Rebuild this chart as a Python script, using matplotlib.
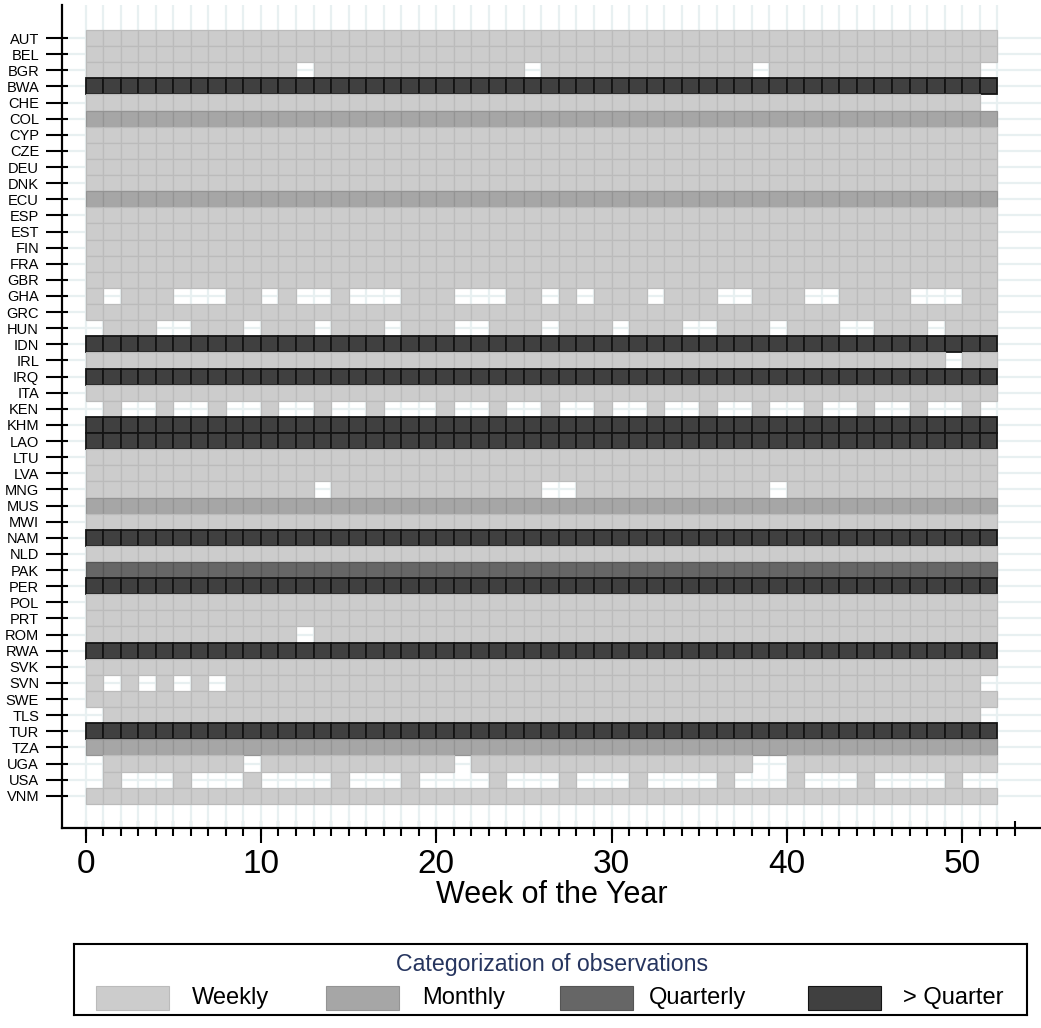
import numpy as np
import matplotlib.pyplot as plt
from matplotlib.patches import Rectangle

# countries (rows, top to bottom) and their observation frequency
countries = ["AUT", "BEL", "BGR", "BWA", "CHE", "COL", "CYP", "CZE", "DEU", "DNK",
             "ECU", "ESP", "EST", "FIN", "FRA", "GBR", "GHA", "GRC", "HUN", "IDN",
             "IRL", "IRQ", "ITA", "KEN", "KHM", "LAO", "LTU", "LVA", "MNG", "MUS",
             "MWI", "NAM", "NLD", "PAK", "PER", "POL", "PRT", "ROM", "RWA", "SVK",
             "SVN", "SWE", "TLS", "TUR", "TZA", "UGA", "USA", "VNM"]
frequency = ["Weekly", "Weekly", "Weekly", "> Quarter", "Weekly", "Monthly", "Weekly", "Weekly", "Weekly", "Weekly",
             "Monthly", "Weekly", "Weekly", "Weekly", "Weekly", "Weekly", "Weekly", "Weekly", "Weekly", "> Quarter",
             "Weekly", "> Quarter", "Weekly", "Weekly", "> Quarter", "> Quarter", "Weekly", "Weekly", "Weekly", "Monthly",
             "Weekly", "> Quarter", "Weekly", "Quarterly", "> Quarter", "Weekly", "Weekly", "Weekly", "> Quarter", "Weekly",
             "Weekly", "Weekly", "Weekly", "> Quarter", "Monthly", "Weekly", "Weekly", "Weekly"]

# weeks with no observation
missing_weeks = {
    "BGR": [12, 25, 38, 51],
    "CHE": [51],
    "GHA": [1, 5, 6, 7, 10, 12, 13, 15, 16, 17, 21, 22, 23, 26, 28, 32, 36, 37, 41, 42, 47, 48, 49],
    "HUN": [0, 4, 5, 9, 13, 17, 21, 22, 26, 30, 34, 35, 39, 43, 44, 48],
    "IRL": [49],
    "KEN": [0, 2, 3, 5, 6, 8, 9, 11, 12, 14, 15, 17, 18, 19, 21, 22, 24, 25, 27, 28, 30, 31,
            33, 34, 36, 37, 39, 40, 42, 43, 45, 46, 48, 49, 51],
    "MNG": [13, 26, 27, 39],
    "ROM": [12],
    "SVN": [1, 3, 5, 7, 51],
    "TLS": [0, 51],
    "UGA": [0, 9, 21, 38, 39],
    "USA": [0, 2, 3, 4, 6, 7, 8, 10, 11, 12, 13, 15, 16, 17, 19, 20, 21, 22, 24, 25, 26, 28, 29, 30,
            32, 33, 34, 35, 37, 38, 39, 41, 42, 43, 45, 46, 47, 48, 50, 51],
}
weeks = np.arange(52)

categories = ["Weekly", "Monthly", "Quarterly", "> Quarter"]
cat_colors = ["#cccccc", "#a6a6a6", "#666666", "#404040"]
cat_edges = ["#bbbbbb", "#949494", "#555555", "#141414"]
x_major = [0, 10, 20, 30, 40, 50]

plt.rcParams['font.family'] = ['Liberation Sans', 'DejaVu Sans']

W, H = 1041, 1028
fig = plt.figure(figsize=(W / 100, H / 100), dpi=100)
ax = fig.add_axes([62 / W, 1 - 828 / H, (W - 62) / W, (828 - 5) / H])

# cells
for i, (c, f) in enumerate(zip(countries, frequency)):
    k = categories.index(f)
    gaps = missing_weeks.get(c, [])
    present = [w for w in weeks if w not in gaps]
    ax.barh(np.full(len(present), i), 1, left=present, height=1, align='center',
            color=cat_colors[k], edgecolor=cat_edges[k],
            linewidth=1.3 if k == 3 else 0.9, zorder=3)

# light grid behind the cells
grid_col = "#e8f0f1"
ax.vlines(np.arange(len(weeks) + 1), 0, 1, transform=ax.get_xaxis_transform(),
          color=grid_col, linewidth=1.6, zorder=1)
ax.grid(axis='y', which='major', color=grid_col, linewidth=1.6, zorder=1)
ax.set_axisbelow(True)

# axes
rows = np.arange(len(countries))
ax.set_yticks(rows)
ax.set_yticklabels(countries)
ax.set_yticks(rows, minor=True)
ax.yaxis.remove_overlapping_locs = False
ax.tick_params(axis='y', which='major', direction='out', length=11.5, width=1.5, pad=5, labelsize=10.5)
ax.tick_params(axis='y', which='minor', direction='in', length=4.3, width=1.5)
ax.set_ylim(49, -2.05)

ax.set_xticks(x_major)
ax.set_xticks(np.arange(54), minor=True)
ax.xaxis.remove_overlapping_locs = False
ax.tick_params(axis='x', which='major', direction='out', length=10.8, width=1.5, pad=4, labelsize=24)
ax.tick_params(axis='x', which='minor', direction='inout', length=10.8, width=1.5)
ax.set_xlim(-1.35, 54.5)
ax.set_xlabel("Week of the Year", fontsize=22, labelpad=0.5)

for s in ['top', 'right']:
    ax.spines[s].set_visible(False)
for s in ['left', 'bottom']:
    ax.spines[s].set_linewidth(1.6)

# legend box (pixel coordinates)
lax = fig.add_axes([74 / W, 1 - 1015 / H, (1027 - 74) / W, (1015 - 944) / H])
lax.set_xlim(74, 1027)
lax.set_ylim(1015, 944)
lax.set_xticks([])
lax.set_yticks([])
for s in lax.spines.values():
    s.set_linewidth(1.5)
lax.text(552, 964, "Categorization of observations", fontsize=16.7, color="#26355f",
         ha='center', va='center')
swatch_x = [96, 326, 560, 808]
label_x = [192, 422, 649, 903]
for k, cat in enumerate(categories):
    lax.add_patch(Rectangle((swatch_x[k], 986), 73, 24, facecolor=cat_colors[k],
                            edgecolor=cat_edges[k], linewidth=0.8))
    lax.text(label_x[k], 998, cat, fontsize=17, ha='left', va='center')

plt.savefig("out.png", dpi=100)
